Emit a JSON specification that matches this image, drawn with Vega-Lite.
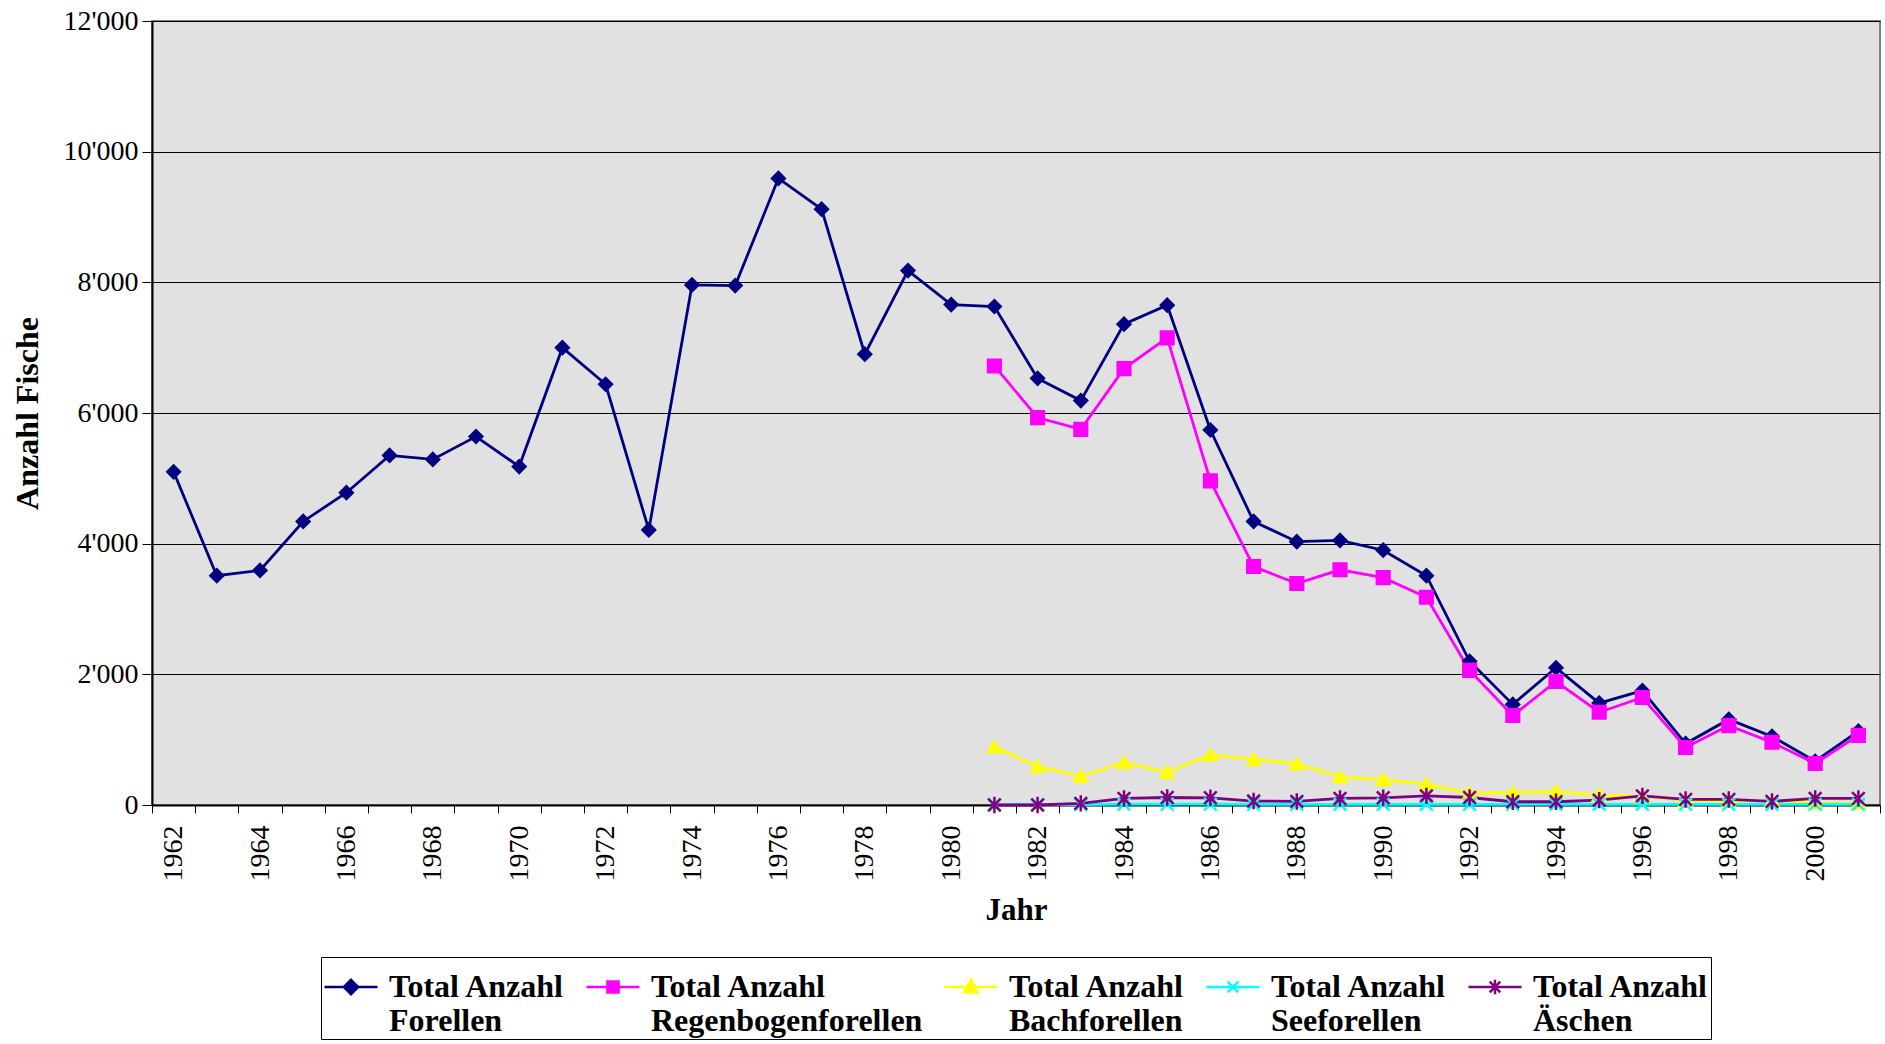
{
  "$schema": "https://vega.github.io/schema/vega-lite/v6.json",
  "width": 1728,
  "height": 784,
  "padding": {"left": 11, "top": 7, "right": 4, "bottom": 0},
  "background": "white",
  "config": {
    "font": "Liberation Serif",
    "view": {"fill": "#E1E1E1", "stroke": "#808080", "strokeWidth": 2},
    "legend": {"layout": {"bottom": {"anchor": "middle"}}}
  },
  "data": {
    "values": [
      {"Jahr": 1962, "Total Anzahl Forellen": 5100},
      {"Jahr": 1963, "Total Anzahl Forellen": 3510},
      {"Jahr": 1964, "Total Anzahl Forellen": 3590},
      {"Jahr": 1965, "Total Anzahl Forellen": 4340},
      {"Jahr": 1966, "Total Anzahl Forellen": 4780},
      {"Jahr": 1967, "Total Anzahl Forellen": 5350},
      {"Jahr": 1968, "Total Anzahl Forellen": 5290},
      {"Jahr": 1969, "Total Anzahl Forellen": 5640},
      {"Jahr": 1970, "Total Anzahl Forellen": 5180},
      {"Jahr": 1971, "Total Anzahl Forellen": 7000},
      {"Jahr": 1972, "Total Anzahl Forellen": 6440},
      {"Jahr": 1973, "Total Anzahl Forellen": 4210},
      {"Jahr": 1974, "Total Anzahl Forellen": 7960},
      {"Jahr": 1975, "Total Anzahl Forellen": 7950},
      {"Jahr": 1976, "Total Anzahl Forellen": 9590},
      {"Jahr": 1977, "Total Anzahl Forellen": 9120},
      {"Jahr": 1978, "Total Anzahl Forellen": 6900},
      {"Jahr": 1979, "Total Anzahl Forellen": 8180},
      {"Jahr": 1980, "Total Anzahl Forellen": 7660},
      {"Jahr": 1981, "Total Anzahl Forellen": 7630, "Total Anzahl Regenbogenforellen": 6720, "Total Anzahl Bachforellen": 890, "Total Anzahl Seeforellen": 8, "Total Anzahl Äschen": 0},
      {"Jahr": 1982, "Total Anzahl Forellen": 6530, "Total Anzahl Regenbogenforellen": 5930, "Total Anzahl Bachforellen": 590, "Total Anzahl Seeforellen": 8, "Total Anzahl Äschen": 0},
      {"Jahr": 1983, "Total Anzahl Forellen": 6190, "Total Anzahl Regenbogenforellen": 5750, "Total Anzahl Bachforellen": 440, "Total Anzahl Seeforellen": 8, "Total Anzahl Äschen": 25},
      {"Jahr": 1984, "Total Anzahl Forellen": 7360, "Total Anzahl Regenbogenforellen": 6680, "Total Anzahl Bachforellen": 650, "Total Anzahl Seeforellen": 12, "Total Anzahl Äschen": 100},
      {"Jahr": 1985, "Total Anzahl Forellen": 7650, "Total Anzahl Regenbogenforellen": 7150, "Total Anzahl Bachforellen": 500, "Total Anzahl Seeforellen": 12, "Total Anzahl Äschen": 115},
      {"Jahr": 1986, "Total Anzahl Forellen": 5740, "Total Anzahl Regenbogenforellen": 4960, "Total Anzahl Bachforellen": 770, "Total Anzahl Seeforellen": 12, "Total Anzahl Äschen": 110},
      {"Jahr": 1987, "Total Anzahl Forellen": 4340, "Total Anzahl Regenbogenforellen": 3650, "Total Anzahl Bachforellen": 700, "Total Anzahl Seeforellen": 10, "Total Anzahl Äschen": 60},
      {"Jahr": 1988, "Total Anzahl Forellen": 4030, "Total Anzahl Regenbogenforellen": 3390, "Total Anzahl Bachforellen": 630, "Total Anzahl Seeforellen": 10, "Total Anzahl Äschen": 55},
      {"Jahr": 1989, "Total Anzahl Forellen": 4050, "Total Anzahl Regenbogenforellen": 3600, "Total Anzahl Bachforellen": 430, "Total Anzahl Seeforellen": 10, "Total Anzahl Äschen": 100},
      {"Jahr": 1990, "Total Anzahl Forellen": 3900, "Total Anzahl Regenbogenforellen": 3480, "Total Anzahl Bachforellen": 390, "Total Anzahl Seeforellen": 10, "Total Anzahl Äschen": 110},
      {"Jahr": 1991, "Total Anzahl Forellen": 3510, "Total Anzahl Regenbogenforellen": 3180, "Total Anzahl Bachforellen": 320, "Total Anzahl Seeforellen": 10, "Total Anzahl Äschen": 140},
      {"Jahr": 1992, "Total Anzahl Forellen": 2200, "Total Anzahl Regenbogenforellen": 2060, "Total Anzahl Bachforellen": 180, "Total Anzahl Seeforellen": 10, "Total Anzahl Äschen": 115},
      {"Jahr": 1993, "Total Anzahl Forellen": 1540, "Total Anzahl Regenbogenforellen": 1370, "Total Anzahl Bachforellen": 190, "Total Anzahl Seeforellen": 10, "Total Anzahl Äschen": 50},
      {"Jahr": 1994, "Total Anzahl Forellen": 2100, "Total Anzahl Regenbogenforellen": 1890, "Total Anzahl Bachforellen": 210, "Total Anzahl Seeforellen": 10, "Total Anzahl Äschen": 50},
      {"Jahr": 1995, "Total Anzahl Forellen": 1560, "Total Anzahl Regenbogenforellen": 1420, "Total Anzahl Bachforellen": 150, "Total Anzahl Seeforellen": 10, "Total Anzahl Äschen": 75},
      {"Jahr": 1996, "Total Anzahl Forellen": 1750, "Total Anzahl Regenbogenforellen": 1645, "Total Anzahl Bachforellen": 130, "Total Anzahl Seeforellen": 10, "Total Anzahl Äschen": 140},
      {"Jahr": 1997, "Total Anzahl Forellen": 940, "Total Anzahl Regenbogenforellen": 880, "Total Anzahl Bachforellen": 70, "Total Anzahl Seeforellen": 10, "Total Anzahl Äschen": 85},
      {"Jahr": 1998, "Total Anzahl Forellen": 1310, "Total Anzahl Regenbogenforellen": 1215, "Total Anzahl Bachforellen": 60, "Total Anzahl Seeforellen": 10, "Total Anzahl Äschen": 85},
      {"Jahr": 1999, "Total Anzahl Forellen": 1050, "Total Anzahl Regenbogenforellen": 960, "Total Anzahl Bachforellen": 70, "Total Anzahl Seeforellen": 10, "Total Anzahl Äschen": 55},
      {"Jahr": 2000, "Total Anzahl Forellen": 670, "Total Anzahl Regenbogenforellen": 635, "Total Anzahl Bachforellen": 30, "Total Anzahl Seeforellen": 10, "Total Anzahl Äschen": 100},
      {"Jahr": 2001, "Total Anzahl Forellen": 1130, "Total Anzahl Regenbogenforellen": 1065, "Total Anzahl Bachforellen": 30, "Total Anzahl Seeforellen": 10, "Total Anzahl Äschen": 100}
    ]
  },
  "transform": [
    {"fold": ["Total Anzahl Forellen", "Total Anzahl Regenbogenforellen", "Total Anzahl Bachforellen", "Total Anzahl Seeforellen", "Total Anzahl Äschen"], "as": ["Serie", "Anzahl"]},
    {"filter": "isValid(datum.Anzahl)"}
  ],
  "encoding": {
    "x": {
      "field": "Jahr",
      "type": "ordinal",
      "bandPosition": 0.5,
      "scale": {"type": "band", "paddingInner": 0, "paddingOuter": 0},
      "axis": {
        "title": "Jahr",
        "titleFontSize": 31,
        "titleFontWeight": "bold",
        "titleColor": "black",
        "titlePadding": 14,
        "labelAngle": 270,
        "labelFontSize": 28,
        "labelColor": "black",
        "labelPadding": 12,
        "labelOverlap": false,
        "labelExpr": "datum.value % 2 === 0 ? datum.label : ''",
        "tickBand": "extent",
        "tickSize": 8,
        "tickColor": "black",
        "domainColor": "black",
        "domainWidth": 2,
        "grid": false
      }
    },
    "y": {
      "field": "Anzahl",
      "type": "quantitative",
      "scale": {"domain": [0, 12000], "nice": false},
      "axis": {
        "title": "Anzahl Fische",
        "titleFontSize": 32,
        "titleFontWeight": "bold",
        "titleColor": "black",
        "titlePadding": 18,
        "values": [0, 2000, 4000, 6000, 8000, 10000, 12000],
        "labelExpr": "replace(format(datum.value, ','), ',', \"'\")",
        "labelFontSize": 28,
        "labelColor": "black",
        "labelPadding": 4,
        "tickSize": 10,
        "tickColor": "black",
        "domainColor": "black",
        "domainWidth": 2,
        "grid": true,
        "gridColor": "black",
        "gridOpacity": 1,
        "gridWidth": 1
      }
    },
    "color": {
      "field": "Serie",
      "type": "nominal",
      "scale": {
        "domain": ["Total Anzahl Forellen", "Total Anzahl Regenbogenforellen", "Total Anzahl Bachforellen", "Total Anzahl Seeforellen", "Total Anzahl Äschen"],
        "range": ["#000080", "#FF00FF", "#FFFF00", "#00FFFF", "#800080"]
      },
      "legend": {
        "orient": "bottom",
        "direction": "horizontal",
        "columns": 5,
        "title": null,
        "offset": 32,
        "padding": 2,
        "strokeColor": "black",
        "columnPadding": 16,
        "labelFont": "Liberation Serif",
        "labelFontWeight": "bold",
        "labelFontSize": 32,
        "labelLineHeight": 36,
        "labelColor": "black",
        "labelLimit": 500,
        "labelOffset": 10,
        "labelExpr": "['Total Anzahl', replace(datum.label, 'Total Anzahl ', '')]",
        "symbolSize": 2809,
        "symbolStrokeWidth": 2.5,
        "encode": {
          "symbols": {
            "update": {
              "shape": {"signal": "datum.value === 'Total Anzahl Forellen' ? 'M-1,0L1,0M0,-0.27L0.27,0L0,0.27L-0.27,0Z' : datum.value === 'Total Anzahl Regenbogenforellen' ? 'M-1,0L1,0M-0.21,-0.21L0.21,-0.21L0.21,0.21L-0.21,0.21Z' : datum.value === 'Total Anzahl Bachforellen' ? 'M-1,0L1,0M0,-0.27L0.25,0.2L-0.25,0.2Z' : datum.value === 'Total Anzahl Seeforellen' ? 'M-1,0L1,0M-0.2,-0.2L0.2,0.2M-0.2,0.2L0.2,-0.2' : 'M-1,0L1,0M-0.2,-0.2L0.2,0.2M-0.2,0.2L0.2,-0.2M0,-0.27L0,0.27'"},
              "fill": {"scale": "color", "field": "value"},
              "stroke": {"scale": "color", "field": "value"},
              "fillOpacity": {"value": 1},
              "strokeOpacity": {"value": 1}
            }
          }
        }
      }
    }
  },
  "layer": [
    {"mark": {"type": "line", "strokeWidth": 2.8}},
    {
      "mark": {"type": "point", "filled": true, "opacity": 1, "size": 160, "strokeWidth": 2.5},
      "encoding": {
        "shape": {
          "field": "Serie",
          "type": "nominal",
          "scale": {
            "domain": ["Total Anzahl Äschen", "Total Anzahl Seeforellen", "Total Anzahl Bachforellen", "Total Anzahl Regenbogenforellen", "Total Anzahl Forellen"],
            "range": ["M-1,-1L1,1M-1,1L1,-1M0,-1.3L0,1.3", "M-1,-1L1,1M-1,1L1,-1", "triangle-up", "square", "diamond"]
          },
          "legend": null
        },
        "stroke": {
          "field": "Serie",
          "type": "nominal",
          "scale": {
            "domain": ["Total Anzahl Äschen", "Total Anzahl Seeforellen", "Total Anzahl Bachforellen", "Total Anzahl Regenbogenforellen", "Total Anzahl Forellen"],
            "range": ["#800080", "#00FFFF", "#FFFF00", "#FF00FF", "#000080"]
          },
          "legend": null
        }
      }
    }
  ]
}
